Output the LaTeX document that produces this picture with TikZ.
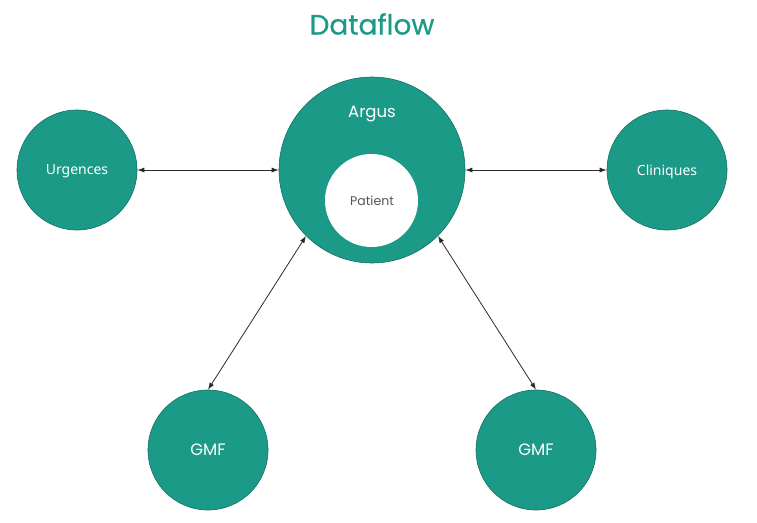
\documentclass[tikz,border=0pt]{standalone}
\usepackage{fontspec}
\setmainfont{Poppins}
\newfontfamily\labelfont{Noto Sans}
\newfontfamily\titlefont[FakeBold=0.6]{Poppins}
\usetikzlibrary{arrows.meta}
\definecolor{teal1}{HTML}{1A9A87}
\definecolor{tealedge}{HTML}{146F62}
\definecolor{arrowc}{HTML}{2A2A2A}
\definecolor{pgrey}{HTML}{555555}
\tikzset{
  bigc/.style={circle, fill=teal1, draw=tealedge, line width=0.6pt, minimum size=#1, inner sep=0pt},
  flow/.style={arrowc, line width=0.8pt, {Latex[length=7pt,width=5pt]}-{Latex[length=7pt,width=5pt]}},
  smalllab/.style={text=white, font=\labelfont\fontsize{14}{16}\selectfont},
  biglab/.style={text=white, font=\fontsize{16.5}{19}\selectfont}
}
\begin{document}
\begin{tikzpicture}[x=1pt,y=-1pt]
\useasboundingbox (0,0) rectangle (757,522);
\node[text=teal1, font=\titlefont\fontsize{28}{30}\selectfont] (title) at (372,24) {Dataflow};
\node[bigc=186pt] (argus) at (372,170) {};
\node[biglab] (arguslab) at (372,114) {Argus};
\node[circle, fill=white, minimum size=93pt, inner sep=0pt] (patient) at (371.5,200.5) {};
\node[text=pgrey, font=\fontsize{12.5}{14}\selectfont] (patientlab) at (372,201) {Patient};
\node[bigc=120pt] (urg) at (77,170) {};
\node[smalllab] (urglab) at (77,171.5) {Urgences};
\node[bigc=120pt] (cli) at (667,170) {};
\node[smalllab] (clilab) at (667,171.5) {Cliniques};
\node[bigc=120pt, biglab] (gmf1) at (208,450) {GMF};
\node[bigc=120pt, biglab] (gmf2) at (536,450) {GMF};
\draw[flow] (urg.east) -- (argus.west);
\draw[flow] (argus.east) -- (cli.west);
\draw[flow] (argus.225) -- (gmf1.north);
\draw[flow] (argus.-45) -- (gmf2.north);
\end{tikzpicture}
\end{document}
